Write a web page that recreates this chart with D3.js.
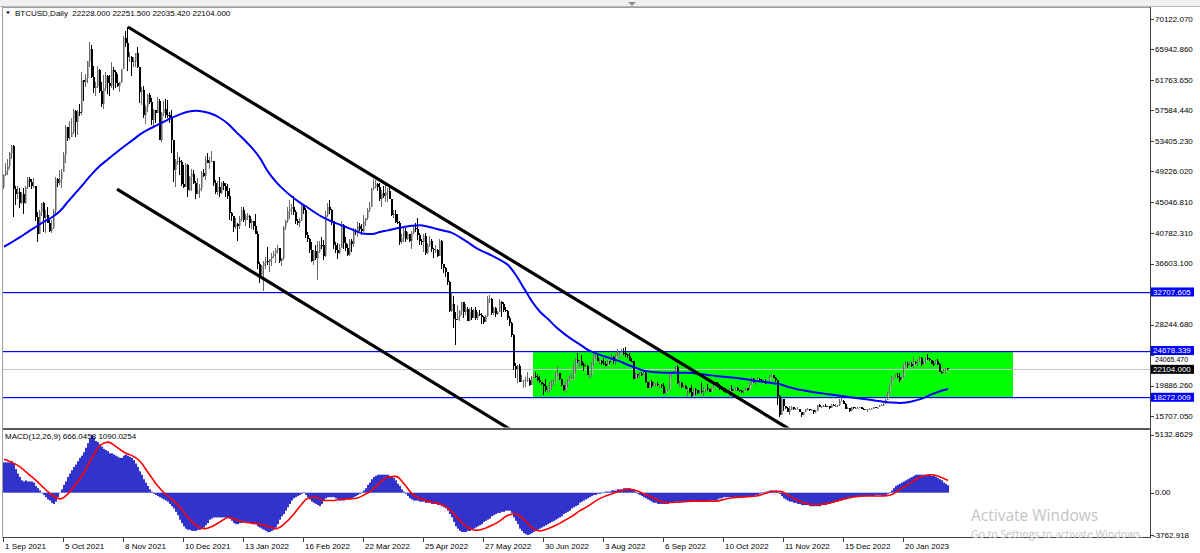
<!DOCTYPE html>
<html><head><meta charset="utf-8">
<script src="https://cdn.jsdelivr.net/npm/d3@7/dist/d3.min.js"></script>
<style>html,body{margin:0;padding:0;background:#fff;overflow:hidden}svg{display:block}</style>
</head><body><svg id="c" width="1200" height="553"></svg>
<script>
// ---------------- DATA (prices in thousands USD, MACD in hundreds) ----------------
const symbolTitle = "BTCUSD,Daily  22228.000 22251.500 22035.420 22104.000";
const macdTitle = "MACD(12,26,9) 666.0458 1090.0254";
const firstOpen = 47.1;
const closes = [
48.8,49.3,50.0,51.8,52.7,46.8,46.1,46.4,44.9,46.1,
44.9,47.1,48.2,47.8,47.3,47.3,43.0,40.7,43.6,44.9,
42.8,43.2,42.2,41.0,41.5,43.8,48.2,47.7,48.2,49.1,
51.5,55.3,53.8,53.9,54.7,57.5,56.0,57.4,57.3,61.7,
61.5,62.0,64.3,66.0,62.2,60.7,60.9,63.1,60.3,58.5,
60.6,62.3,61.3,61.0,63.2,62.9,61.4,61.0,61.5,63.3,
67.5,66.9,64.9,64.9,64.2,64.4,65.5,63.6,60.1,60.4,
56.9,58.1,59.7,58.7,56.3,57.6,57.2,58.9,53.6,57.3,
57.8,57.0,56.9,56.5,53.6,49.4,50.6,50.6,50.5,47.5,
47.1,50.1,46.7,48.4,48.9,47.6,46.2,46.7,46.9,49.0,
48.6,50.8,50.4,50.6,50.6,47.6,46.4,47.1,46.3,47.7,
47.3,46.5,45.9,43.5,43.1,41.6,42.0,41.8,42.7,43.9,
42.6,43.1,43.1,42.2,42.4,41.7,40.7,36.5,35.0,36.3,
36.7,36.9,36.8,37.2,37.7,37.9,38.5,38.7,37.0,37.3,
41.6,42.4,43.8,44.1,44.3,43.6,42.4,42.1,42.6,44.6,
43.9,40.5,40.0,38.4,37.0,38.3,37.3,38.3,39.2,39.1,
37.7,43.2,44.4,44.0,42.5,39.1,38.4,38.0,38.7,41.9,
39.4,38.7,37.8,39.7,39.3,41.1,40.9,41.8,41.3,41.0,
42.4,42.9,44.0,44.3,46.8,47.1,47.5,47.1,45.5,46.3,
45.8,46.4,46.6,45.5,43.2,43.4,42.3,42.2,39.5,40.1,
41.1,39.9,40.6,39.7,40.8,41.5,41.4,40.5,39.7,39.5,
40.4,38.1,39.2,39.7,38.6,38.5,38.5,37.7,39.7,36.6,
36.0,35.5,34.1,30.1,31.0,29.0,28.9,29.3,30.1,31.3,
29.9,30.4,28.7,30.3,29.2,30.3,29.1,29.7,29.5,29.3,
28.6,29.4,31.7,31.8,29.8,30.5,29.7,29.9,31.4,31.1,
30.2,30.1,29.1,28.4,26.8,22.5,22.2,22.6,20.4,20.5,
20.6,20.6,20.7,20.0,21.0,21.2,21.0,20.7,20.3,20.1,
19.8,19.3,19.3,20.2,20.2,20.5,21.6,21.6,20.8,19.9,
19.3,20.2,20.6,20.8,20.8,22.4,23.4,23.2,23.2,22.7,
22.5,22.6,21.3,21.3,22.9,23.8,23.8,23.3,23.3,23.0,
22.8,22.6,23.3,23.2,23.8,23.2,23.9,23.9,24.4,24.4,
24.3,24.1,23.9,23.3,23.2,20.8,21.5,21.4,21.5,21.4,
21.6,20.3,19.6,20.3,19.8,20.0,20.1,19.9,20.0,19.8,
18.8,19.3,19.3,21.4,21.7,21.8,22.4,20.2,20.2,19.7,
19.8,19.4,19.5,19.0,18.5,19.4,19.3,18.8,19.2,19.1,
19.4,19.6,19.4,19.0,19.6,20.3,20.2,19.9,19.5,19.4,
19.1,19.0,19.2,19.4,19.2,19.3,19.5,19.3,19.1,19.0,
19.2,19.6,19.3,20.1,20.8,20.3,20.6,20.8,20.6,20.5,
20.5,20.2,20.2,21.1,21.3,20.9,20.6,18.5,15.9,18.0,
17.1,16.8,16.3,16.6,16.9,16.7,16.7,16.7,16.3,15.8,
16.2,16.6,16.6,16.5,16.5,16.2,16.4,17.2,17.0,17.1,
17.1,17.0,17.1,16.8,17.2,17.1,17.1,17.2,17.8,17.8,
17.4,16.6,16.8,16.4,16.9,16.8,16.8,16.8,16.9,16.7,
16.5,16.6,16.6,16.7,16.7,16.9,16.8,17.0,17.1,17.2,
17.4,17.9,18.8,19.9,20.9,20.9,21.2,21.1,20.7,21.1,
22.7,22.8,22.7,22.9,22.6,23.1,23.0,23.1,23.7,22.8,
23.1,23.7,23.5,23.4,22.9,22.8,23.2,22.9,21.8,21.6,
21.8,22.228,22.104];
const highs = [
48.9,50.4,51.0,51.9,52.9,52.9,47.3,47.3,47.0,46.4,
46.9,47.2,48.4,48.5,48.2,48.3,47.3,43.6,44.0,44.9,
45.1,43.9,44.4,42.8,42.6,44.1,48.5,48.3,49.4,49.5,
51.9,55.6,55.3,56.1,56.5,57.8,57.6,57.7,58.5,62.8,
61.7,62.6,64.4,67.0,66.6,63.7,61.5,63.7,63.3,61.5,
62.4,62.9,62.4,62.4,64.2,63.5,63.1,62.6,61.5,63.3,
67.8,68.5,69.0,65.6,65.0,64.9,65.5,66.3,63.6,60.8,
60.9,58.3,59.8,60.0,59.3,57.8,57.7,59.4,59.2,57.4,
58.9,59.2,59.0,57.4,57.6,53.6,50.9,51.9,51.2,50.8,
50.1,50.4,50.2,48.6,49.5,49.4,47.9,48.3,47.5,49.3,
49.5,51.3,51.8,51.2,52.0,50.7,48.1,47.9,48.5,47.8,
47.9,47.6,47.5,47.0,43.7,43.1,42.8,42.2,43.1,44.3,
44.4,43.4,43.5,43.2,42.7,42.5,43.4,41.1,36.8,36.4,
37.0,37.5,38.9,37.2,38.0,38.3,38.7,39.2,38.8,37.4,
41.7,42.6,44.4,45.3,44.8,45.8,43.9,42.7,42.9,44.7,
44.6,44.2,40.9,40.1,39.5,38.4,39.2,39.7,39.7,40.2,
39.8,43.8,44.9,45.3,44.1,42.5,39.6,39.4,39.3,42.4,
42.0,40.2,39.3,39.9,39.9,41.5,41.4,42.3,42.2,42.0,
43.3,42.9,44.2,45.1,46.9,48.2,48.1,47.7,47.6,46.7,
47.2,47.4,46.9,47.1,45.5,43.9,43.9,43.4,42.4,40.7,
41.5,41.5,40.9,40.6,41.1,41.7,42.2,42.9,40.8,39.9,
40.6,40.8,39.4,40.4,39.9,38.7,39.1,38.6,39.9,39.8,
36.6,36.1,35.5,34.2,32.6,32.1,30.0,30.9,30.3,31.4,
31.3,31.0,30.6,30.5,30.7,30.4,30.6,30.0,30.2,29.8,
29.4,29.5,32.2,32.3,31.9,30.6,30.6,30.1,31.7,31.5,
31.3,30.6,30.3,29.4,28.6,26.9,23.0,22.7,22.9,21.3,
20.7,21.0,21.7,20.9,21.2,21.5,21.8,21.5,21.2,20.4,
20.2,20.8,19.6,20.3,20.7,20.7,21.8,22.5,21.6,20.8,
20.0,20.3,20.8,21.2,21.6,22.8,23.7,24.3,23.4,24.0,
23.0,23.0,22.7,21.4,23.1,24.2,24.4,24.2,23.5,23.4,
23.6,23.2,23.4,23.3,24.2,23.9,24.2,24.9,24.5,24.9,
25.0,25.2,24.2,24.4,23.6,23.2,21.7,21.5,21.7,21.8,
21.8,21.8,20.2,20.4,20.6,20.5,20.2,20.4,20.0,20.1,
20.2,19.4,19.4,21.5,21.8,21.9,22.5,22.7,20.5,20.3,
19.9,20.0,19.7,19.6,19.9,19.5,19.5,19.2,19.3,20.3,
19.7,19.6,20.1,19.4,19.7,20.4,20.3,20.4,20.1,19.5,
19.5,19.2,19.2,19.5,19.9,19.4,19.7,19.7,19.3,19.3,
19.3,19.7,19.6,20.4,21.0,20.9,20.7,21.0,20.9,20.8,
20.6,20.8,20.4,21.3,21.4,21.3,21.0,20.7,18.6,18.2,
18.1,17.1,16.9,17.1,17.1,17.0,16.8,16.9,16.7,16.3,
16.3,16.7,16.8,16.6,16.6,16.5,16.5,17.2,17.3,17.1,
17.2,17.4,17.1,17.1,17.3,17.3,17.3,17.2,18.0,18.4,
17.9,17.5,16.9,16.8,17.0,16.9,16.9,16.9,16.9,16.9,
16.8,16.7,16.6,16.8,16.8,17.0,16.9,17.0,17.2,17.4,
17.5,18.0,19.0,19.9,21.2,21.0,21.4,21.6,21.6,21.2,
22.8,23.3,23.1,23.2,23.1,23.8,23.3,23.5,23.9,23.8,
23.2,23.8,24.2,23.6,23.4,23.2,23.4,23.5,23.0,21.9,
22.1,22.3,22.2515];
const lows = [
46.8,48.6,48.8,49.5,50.9,43.0,44.6,45.5,44.2,44.8,
43.4,44.8,46.8,47.1,46.8,46.9,42.5,39.6,40.6,43.1,
40.9,40.8,42.1,40.9,40.8,41.4,43.3,47.1,47.4,46.9,
49.1,50.4,53.4,53.6,54.1,54.4,53.9,54.2,56.8,56.9,
58.9,60.8,61.4,63.5,62.1,60.0,59.6,60.7,60.0,58.0,
57.8,60.2,59.9,59.6,60.7,60.4,60.7,60.8,60.1,61.4,
63.3,66.3,63.0,64.2,62.3,63.6,63.6,63.4,58.6,58.4,
56.5,55.7,57.4,58.5,55.6,55.4,55.9,57.2,53.6,53.3,
56.8,56.5,56.5,55.9,51.7,47.8,47.1,50.1,48.7,47.3,
46.9,48.7,45.7,46.5,46.6,47.5,45.5,46.4,45.6,46.6,
48.4,48.1,50.4,49.5,50.5,47.3,46.1,46.0,45.7,46.2,
46.7,45.7,45.5,42.6,42.5,40.9,41.3,39.7,41.3,42.5,
42.3,41.7,42.6,41.5,41.3,41.2,40.6,35.8,34.0,34.7,
32.9,35.8,36.4,35.5,36.2,37.4,36.7,38.1,36.7,36.3,
37.1,41.2,42.1,42.7,43.2,43.2,42.0,41.9,41.6,42.5,
43.4,40.1,39.5,38.0,36.8,36.4,37.1,34.3,38.1,38.6,
37.1,37.5,43.0,43.4,41.9,38.6,38.1,37.2,37.9,38.7,
38.6,38.3,37.6,37.6,38.2,38.9,40.5,40.2,41.0,40.5,
40.9,41.8,42.6,43.7,44.5,46.7,46.9,46.6,45.2,44.3,
45.6,45.1,45.1,45.4,43.1,42.8,42.1,42.0,39.2,39.3,
39.6,39.6,39.8,39.6,38.6,40.6,40.9,39.8,39.2,39.2,
38.2,37.8,37.9,38.9,38.2,37.4,38.0,37.5,37.7,35.9,
35.3,34.8,33.7,30.0,29.9,27.8,25.4,28.8,28.7,29.5,
29.2,29.5,28.7,28.7,28.8,29.2,28.9,28.8,29.4,28.3,
28.3,28.8,29.3,31.2,29.5,29.6,29.3,29.5,29.9,29.3,
29.9,29.9,28.9,28.1,26.6,22.0,20.9,20.2,20.3,20.3,
19.6,19.7,20.4,19.8,19.9,20.9,20.9,20.5,20.2,19.9,
18.6,19.0,18.8,19.0,19.3,19.8,20.3,21.2,20.7,19.8,
19.2,18.9,19.6,20.4,20.8,20.8,21.6,23.0,22.4,22.6,
21.9,22.4,21.3,20.8,21.1,22.6,23.5,23.2,22.9,22.7,
22.7,22.5,22.6,22.9,23.2,22.9,22.7,23.8,23.6,24.3,
24.1,23.8,23.7,23.2,23.1,20.8,21.1,20.9,20.9,21.2,
21.3,20.2,19.6,19.6,19.6,19.8,19.7,19.8,19.6,19.6,
18.7,18.6,19.0,19.3,21.1,21.4,21.6,20.1,19.7,19.6,
19.5,19.4,18.3,18.8,18.2,18.4,18.6,18.7,18.7,18.9,
18.5,18.9,19.2,19.0,19.0,19.5,19.8,19.9,19.3,19.3,
19.0,18.9,19.0,18.2,19.1,19.1,19.2,19.1,19.0,18.9,
18.7,19.1,19.2,19.3,20.0,20.2,20.0,20.6,20.5,20.3,
20.4,20.1,20.1,20.2,21.1,20.9,20.4,17.2,15.6,15.8,
16.4,16.7,16.2,15.8,16.5,16.5,16.5,16.6,16.2,15.6,
15.8,16.2,16.5,16.4,16.4,16.0,16.1,16.4,16.9,16.8,
16.9,16.9,16.9,16.7,16.8,17.1,17.0,16.9,17.1,17.7,
17.3,16.6,16.7,16.3,16.4,16.7,16.6,16.8,16.8,16.6,
16.5,16.5,16.3,16.6,16.6,16.7,16.8,16.7,16.9,17.1,
17.1,17.3,17.9,18.7,19.9,20.6,20.9,20.9,20.4,20.7,
20.9,22.4,22.3,22.5,22.4,22.3,22.9,22.5,23.5,22.6,
22.7,22.8,23.4,23.2,22.8,22.6,22.8,22.7,21.7,21.4,
21.6,21.4,22.035];
// 50-period moving average, read every 4th bar (thousands)
const maStep = 4;
const maValues = [
38.90,39.55,40.22,40.95,41.65,42.35,42.95,43.80,45.08,46.35,
47.60,48.90,50.00,50.90,51.80,52.65,53.45,54.30,54.95,55.50,
56.05,56.60,57.05,57.42,57.56,57.42,57.10,56.55,55.75,54.65,
53.60,52.45,51.05,49.20,47.80,46.70,45.75,44.95,44.25,43.50,
42.85,42.35,41.92,41.50,41.05,40.70,40.65,40.93,41.15,41.40,
41.60,41.80,41.85,41.65,41.38,41.10,40.80,40.20,39.50,38.75,
38.20,37.70,37.10,36.40,35.00,33.20,31.40,30.00,29.00,27.90,
27.00,26.20,25.50,24.76,24.30,23.90,23.55,23.20,22.70,22.30,
21.90,21.75,21.68,21.65,21.65,21.65,21.60,21.45,21.33,21.20,
21.10,21.00,20.85,20.70,20.52,20.38,20.22,20.05,19.70,19.40,
19.20,19.00,18.85,18.70,18.55,18.40,18.25,18.10,17.98,17.80,
17.67,17.55,17.50,17.60,17.85,18.20,18.70,19.10,19.41];
// MACD main (histogram), hundreds of USD
const macdMain = [
27,27,27,27,28,26,21,17,14,11,
10,11,10,10,10,9,6,4,2,0,
-2,-4,-6,-7,-9,-10,-8,-4,0,3,
7,10,14,17,20,23,25,28,31,33,
36,40,44,48,51.328629,49,46,45,43,41,
39,38,37,35,35,34,33,32,31,31,
33,34,33,32,31,29,26,23,19,16,
12,9,6,3,1,-1,-2,-3,-4,-5,
-6,-7,-8,-10,-12,-14,-17,-20,-24,-27,
-30,-32,-33,-33,-34,-34,-34,-33,-33,-32,
-31,-29,-27,-24,-23,-22,-22,-22,-22,-22,
-22,-22,-22,-23,-25,-27,-28,-28,-27,-27,
-26,-26,-26,-27,-28,-28,-28,-30,-31,-32,
-33,-34,-35,-35,-34,-33,-31,-28,-24,-21,
-19,-16,-13,-10,-7,-5,-4,-3,-2,-1,
0.5,-2,-4,-6,-8,-9,-10,-11,-12,-10,
-7,-5,-4,-4,-4,-4,-5,-6,-7,-7,
-7,-6,-6,-6,-5,-4,-3,-2,-1,0.5,
2,4,7,9,12,14,15,16,16,16,
16,16,16,15,14,13,11,8,6,3,
1,-1,-3,-5,-6,-7,-7,-7,-8,-8,
-8,-9,-9,-9,-10,-10,-10,-11,-11,-12,
-13,-14,-16,-19,-22,-26,-30,-32,-34,-35,
-35,-35,-34,-34,-33,-32,-31,-30,-29,-28,
-26,-25,-24,-23,-21,-20,-19,-18,-18,-17,
-17,-16,-16,-16,-18,-22,-25,-28,-32,-34,
-36,-37,-37.62918,-37,-36,-35,-34,-33,-32,-31,
-30,-29,-28,-27,-26,-25,-24,-23,-22,-21,
-19,-18,-17,-16,-14,-13,-12,-11,-9,-8,
-7,-6,-5,-4,-3,-2,-2,-1,-1,0,
0.5,1,1,1,2,2,2,3,3,3,
4,4,4,4,3,3,1,-1,-2,-3,
-4,-5,-6,-7,-8,-9,-9,-10,-10,-10,
-10,-10,-10,-9,-9,-9,-8,-8,-8,-8,
-8,-8,-8,-8,-8,-8,-8,-8,-8,-8,
-8,-8,-8,-7,-7,-7,-7,-6,-5,-5,
-4,-4,-4,-4,-4,-4,-4,-4,-4,-4,
-4,-4,-3,-3,-3,-3,-2,-2,-1,0.5,
0.5,1,1,2,2,2,2,1,-1,-3,
-5,-6,-7,-8,-8,-9,-9,-10,-10,-11,
-11,-11,-11,-12,-12,-12,-12,-12,-12,-11,
-11,-11,-10,-10,-9,-9,-8,-8,-7,-7,
-6,-6,-5,-5,-4,-4,-4,-4,-3,-3,
-3,-3,-3,-3,-3,-3,-2,-2,-2,-2,
-2,-2,-1,0.5,2,4,6,7,8,9,
10,11,12,13,14,15,16,16,16,16,
16,16,16,16,15,15,14,13,12,11,
9,8,6.660458];
// MACD signal line, read every 4th bar (hundreds)
const sigStep = 4;
const macdSignal = [
29.7,27,23,17,11,4,-2,-5.5,-1,8,
18,31,42,45,41,36,33,28,18,8,
0,-6,-13,-22,-29,-32,-30,-26,-22,-24,
-26,-27,-28,-30,-32,-28,-21,-12,-5,-4,
-7,-7,-6,-5.5,-5,-2,2,9,14,14.5,
8,-1,-5,-7.5,-9,-11.5,-17,-25,-31,-33.5,
-32,-29,-25,-20,-19,-24,-31,-34,-32,-29,
-25,-21,-16,-12,-7,-3.5,-1,1.5,3,2,
-1,-4,-7.5,-8.7,-8.5,-8,-7.5,-7.5,-7.5,-7.5,
-6,-4.5,-4,-3.5,-3,-1,1,1.2,-2,-6,
-9,-10.5,-10.5,-9.5,-7.5,-5.5,-4,-3.2,-3,-3,
-2.8,-1.5,3,7,12,15,16,14,10.900254];
// axes / annotations
const dateLabels = ["1 Sep 2021","5 Oct 2021","8 Nov 2021","10 Dec 2021","13 Jan 2022","16 Feb 2022","22 Mar 2022","25 Apr 2022","27 May 2022","30 Jun 2022","3 Aug 2022","6 Sep 2022","10 Oct 2022","11 Nov 2022","15 Dec 2022","20 Jan 2023"];
const dateLabelEvery = 30;
const priceTicks = [70122.070,65942.860,61763.650,57584.440,53405.230,49226.020,45046.810,40782.310,36603.100,32423.890,28244.680,24065.470,19886.260,15707.050];
const macdTicks = [5132.8629, 0, -3762.918];
const macdTickText = ["5132.8629","0.00","-3762.918"];
const levelValues = [32707.605, 24678.339, 18272.009];
const lastPrice = 22104.000;
const zoneBars = [265.2, 505.2];
const zonePrices = [24678.339, 18272.009];
const upperTrend = [[62.5, 69025],[280, 32770]];
const lowerTrend = [[57, 46800],[250, 14470]];

// ---------------- CHECKS ----------------
const N = closes.length;
if (highs.length !== N || lows.length !== N || macdMain.length !== N)
  throw new Error("length mismatch " + [N, highs.length, lows.length, macdMain.length].join(","));
if (maValues.length !== Math.floor((N-1)/maStep)+1 || macdSignal.length !== Math.floor((N-1)/sigStep)+1)
  throw new Error("sampled length mismatch " + maValues.length + "," + macdSignal.length);

// ---------------- LAYOUT ----------------
const FONT = "'Liberation Sans', Arial, sans-serif";
const svg = d3.select("#c");
const axisX = 1150, frameL = 2.5, mainTop = 7, mainBot = 428.5, macdTop = 430, macdBot = 537.5;

const x = d3.scaleLinear().domain([0, 573]).range([3, 1149]);
const y = d3.scaleLinear().domain([15707.05, 70122.07]).range([416, 19]);
const ym = d3.scaleLinear().domain([-3762.918, 5132.8629]).range([535, 435]);

// toolbar strip
svg.append("rect").attr("x",0).attr("y",0).attr("width",1200).attr("height",6).attr("fill","#f0f0f0");
svg.append("line").attr("x1",0).attr("x2",1200).attr("y1",6.5).attr("y2",6.5).attr("stroke","#b8b8b8");
svg.append("path").attr("d","M628,2 L636,2 L632,6 Z").attr("fill","#909090");

const defs = svg.append("defs");
defs.append("clipPath").attr("id","mainClip").append("rect").attr("x",3).attr("y",mainTop).attr("width",axisX-3).attr("height",mainBot-mainTop-1);
defs.append("clipPath").attr("id","macdClip").append("rect").attr("x",3).attr("y",macdTop).attr("width",axisX-3).attr("height",macdBot-macdTop);

const main = svg.append("g").attr("clip-path","url(#mainClip)");

// green zone
main.append("rect")
  .attr("x", Math.round(x(zoneBars[0]))).attr("width", Math.round(x(zoneBars[1]) - x(zoneBars[0])))
  .attr("y", Math.round(y(zonePrices[0]))).attr("height", Math.round(y(zonePrices[1]) - y(zonePrices[0])))
  .attr("fill", "#00ff00");

// last price line
main.append("rect").attr("x",3).attr("width",axisX-3).attr("y",Math.round(y(lastPrice))).attr("height",1)
  .attr("fill","#c8c8c8");

// level lines
main.selectAll("rect.level").data(levelValues).join("rect").attr("class","level")
  .attr("x",3).attr("width",axisX-3)
  .attr("y",d=>Math.round(y(d))).attr("height",1.2)
  .attr("fill","#0000ff");

// candles
const bars = closes.map((c,i)=>{
  const o = i===0 ? firstOpen : closes[i-1];
  return {i, o:o*1000, c:c*1000, h:Math.max(highs[i],o,c)*1000, l:Math.min(lows[i],o,c)*1000};
});
const gC = main.append("g").attr("shape-rendering","crispEdges");
gC.selectAll("rect.body").data(bars).join("rect").attr("class","body")
  .attr("x", d=>Math.round(x(d.i)))
  .attr("width", 2)
  .attr("y", d=>y(Math.max(d.o,d.c)))
  .attr("height", d=>Math.max(1, y(Math.min(d.o,d.c)) - y(Math.max(d.o,d.c))))
  .attr("fill", d=> d.c>=d.o ? "#b0b0b0" : "#000000");
gC.selectAll("rect.wick").data(bars).join("rect").attr("class","wick")
  .attr("x", d=>Math.round(x(d.i)))
  .attr("width", 1)
  .attr("y", d=>y(d.h))
  .attr("height", d=>Math.max(1, y(d.l)-y(d.h)))
  .attr("fill", d=> d.c>=d.o ? "#6a6a6a" : "#000000");

// moving average
const maPts = maValues.map((v,k)=>[Math.min(k*maStep, N-1), v*1000]);
main.append("path").datum(maPts)
  .attr("d", d3.line().x(d=>x(d[0])+1).y(d=>y(d[1])).curve(d3.curveMonotoneX))
  .attr("fill","none").attr("stroke","#0000ff").attr("stroke-width",2);

// trendlines (rays clipped by the panel)
function ray(p){
  const slope = (p[1][1]-p[0][1])/(p[1][0]-p[0][0]);
  return [[p[0][0],p[0][1]],[p[0][0]+400, p[0][1] + slope*400]];
}
[upperTrend, lowerTrend].forEach(t=>{
  main.append("path").datum(ray(t))
    .attr("d", d3.line().x(d=>x(d[0])).y(d=>y(d[1])))
    .attr("fill","none").attr("stroke","#000").attr("stroke-width",3.2);
});

// MACD
const gm = svg.append("g").attr("clip-path","url(#macdClip)");
gm.selectAll("rect.h").data(macdMain).join("rect").attr("class","h")
  .attr("x",(d,i)=>Math.round(x(i))+0.2)
  .attr("width",1.6)
  .attr("y",d=>Math.min(ym(d*100), ym(0)))
  .attr("height",d=>Math.max(0.6, Math.abs(ym(d*100)-ym(0))))
  .attr("fill","#0000c0");
const sigPts = macdSignal.map((v,k)=>[Math.min(k*sigStep, N-1), v*100]);
gm.append("path").datum(sigPts)
  .attr("d", d3.line().x(d=>x(d[0])+1).y(d=>ym(d[1])).curve(d3.curveMonotoneX))
  .attr("fill","none").attr("stroke","#ff0000").attr("stroke-width",1.6);

// frames
const fr = svg.append("g").attr("shape-rendering","crispEdges");
fr.append("line").attr("x1",frameL).attr("x2",frameL).attr("y1",mainTop).attr("y2",macdBot).attr("stroke","#a0a0a0");
fr.append("line").attr("x1",frameL).attr("x2",axisX).attr("y1",mainTop+0.5).attr("y2",mainTop+0.5).attr("stroke","#a0a0a0");
fr.append("line").attr("x1",axisX+0.5).attr("x2",axisX+0.5).attr("y1",mainTop).attr("y2",macdBot).attr("stroke","#404040");
fr.append("rect").attr("x",frameL).attr("y",mainBot-1).attr("width",axisX-frameL+1).attr("height",2).attr("fill","#5a5a5a");
fr.append("line").attr("x1",frameL).attr("x2",axisX+1).attr("y1",macdBot).attr("y2",macdBot).attr("stroke","#404040");

// level price tags (drawn on the axis)
const tags = levelValues.map(v=>({v, fill:"#0000ff"})).concat([{v:lastPrice, fill:"#000000"}]);
const tagH = 9;
// tick label placement: skip a label fully covered by a tag, nudge one partially covered
function labelY(t){
  let yy = y(t);
  for (const g of tags){
    const ty = y(g.v);
    if (Math.abs(yy-ty) < 3) return null;
    if (Math.abs(yy-ty) < tagH) yy = yy > ty ? ty + tagH + 0.5 : ty - tagH - 0.5;
  }
  return yy;
}

// right price axis
const ax = svg.append("g").style("font-family",FONT).style("font-size","8px");
ax.selectAll("line.pt").data(priceTicks).join("line").attr("class","pt")
  .attr("x1",axisX+1).attr("x2",axisX+4).attr("y1",d=>Math.round(y(d))+0.5).attr("y2",d=>Math.round(y(d))+0.5)
  .attr("stroke","#404040").attr("shape-rendering","crispEdges");
ax.selectAll("text.pt").data(priceTicks.filter(t=>labelY(t)!==null)).join("text").attr("class","pt")
  .attr("x",axisX+5).attr("y",d=>labelY(d)).attr("dy","0.35em").attr("fill","#000")
  .style("font-size", d=> labelY(d)!==y(d) ? "7px" : "8px")
  .text(d=>d.toFixed(3));
ax.selectAll("line.mt").data(macdTicks).join("line").attr("class","mt")
  .attr("x1",axisX+1).attr("x2",axisX+4).attr("y1",d=>Math.round(ym(d))+0.5).attr("y2",d=>Math.round(ym(d))+0.5)
  .attr("stroke","#404040").attr("shape-rendering","crispEdges");
ax.selectAll("text.mt").data(macdTicks).join("text").attr("class","mt")
  .attr("x",(d,i)=> i===2 ? axisX+3 : axisX+5).attr("y",(d,i)=> i===0 ? ym(d)-1 : ym(d)).attr("dy","0.35em").attr("fill","#000")
  .text((d,i)=>macdTickText[i]);

const tg = ax.selectAll("g.tag").data(tags).join("g").attr("class","tag");
tg.append("rect").attr("x",axisX+1).attr("width",43).attr("y",d=>y(d.v)-tagH/2).attr("height",tagH).attr("fill",d=>d.fill);
tg.append("text").attr("x",axisX+3).attr("y",d=>y(d.v)).attr("dy","0.35em").attr("fill","#fff").text(d=>d.v.toFixed(3));

// date axis
const dx = svg.append("g").style("font-family",FONT).style("font-size","8px");
dx.selectAll("line").data(dateLabels).join("line")
  .attr("x1",(d,k)=>Math.round(x(k*dateLabelEvery))+0.5).attr("x2",(d,k)=>Math.round(x(k*dateLabelEvery))+0.5)
  .attr("y1",macdBot).attr("y2",macdBot+4).attr("stroke","#404040").attr("shape-rendering","crispEdges");
dx.selectAll("text").data(dateLabels).join("text")
  .attr("x",(d,k)=>x(k*dateLabelEvery)+2).attr("y",549).attr("fill","#000").text(d=>d);

// titles
const tt = svg.append("g").style("font-family",FONT).style("font-size","8px").attr("fill","#000");
tt.append("path").attr("d","M6,11.5 L10,11.5 L8,14 Z").attr("fill","#000");
tt.append("text").attr("x",15).attr("y",16).attr("xml:space","preserve").style("white-space","pre").text(symbolTitle);
tt.append("text").attr("x",5).attr("y",439).text(macdTitle);

// watermark
const wm = svg.append("g").style("font-family","'Open Sans', 'Liberation Sans', sans-serif").attr("fill","#c4c4c4");
wm.append("text").attr("x",971).attr("y",521).style("font-size","15.5px").text("Activate Windows");
wm.append("text").attr("x",971).attr("y",538).style("font-size","10.5px").text("Go to Settings to activate Windows.");
</script>
</body></html>
